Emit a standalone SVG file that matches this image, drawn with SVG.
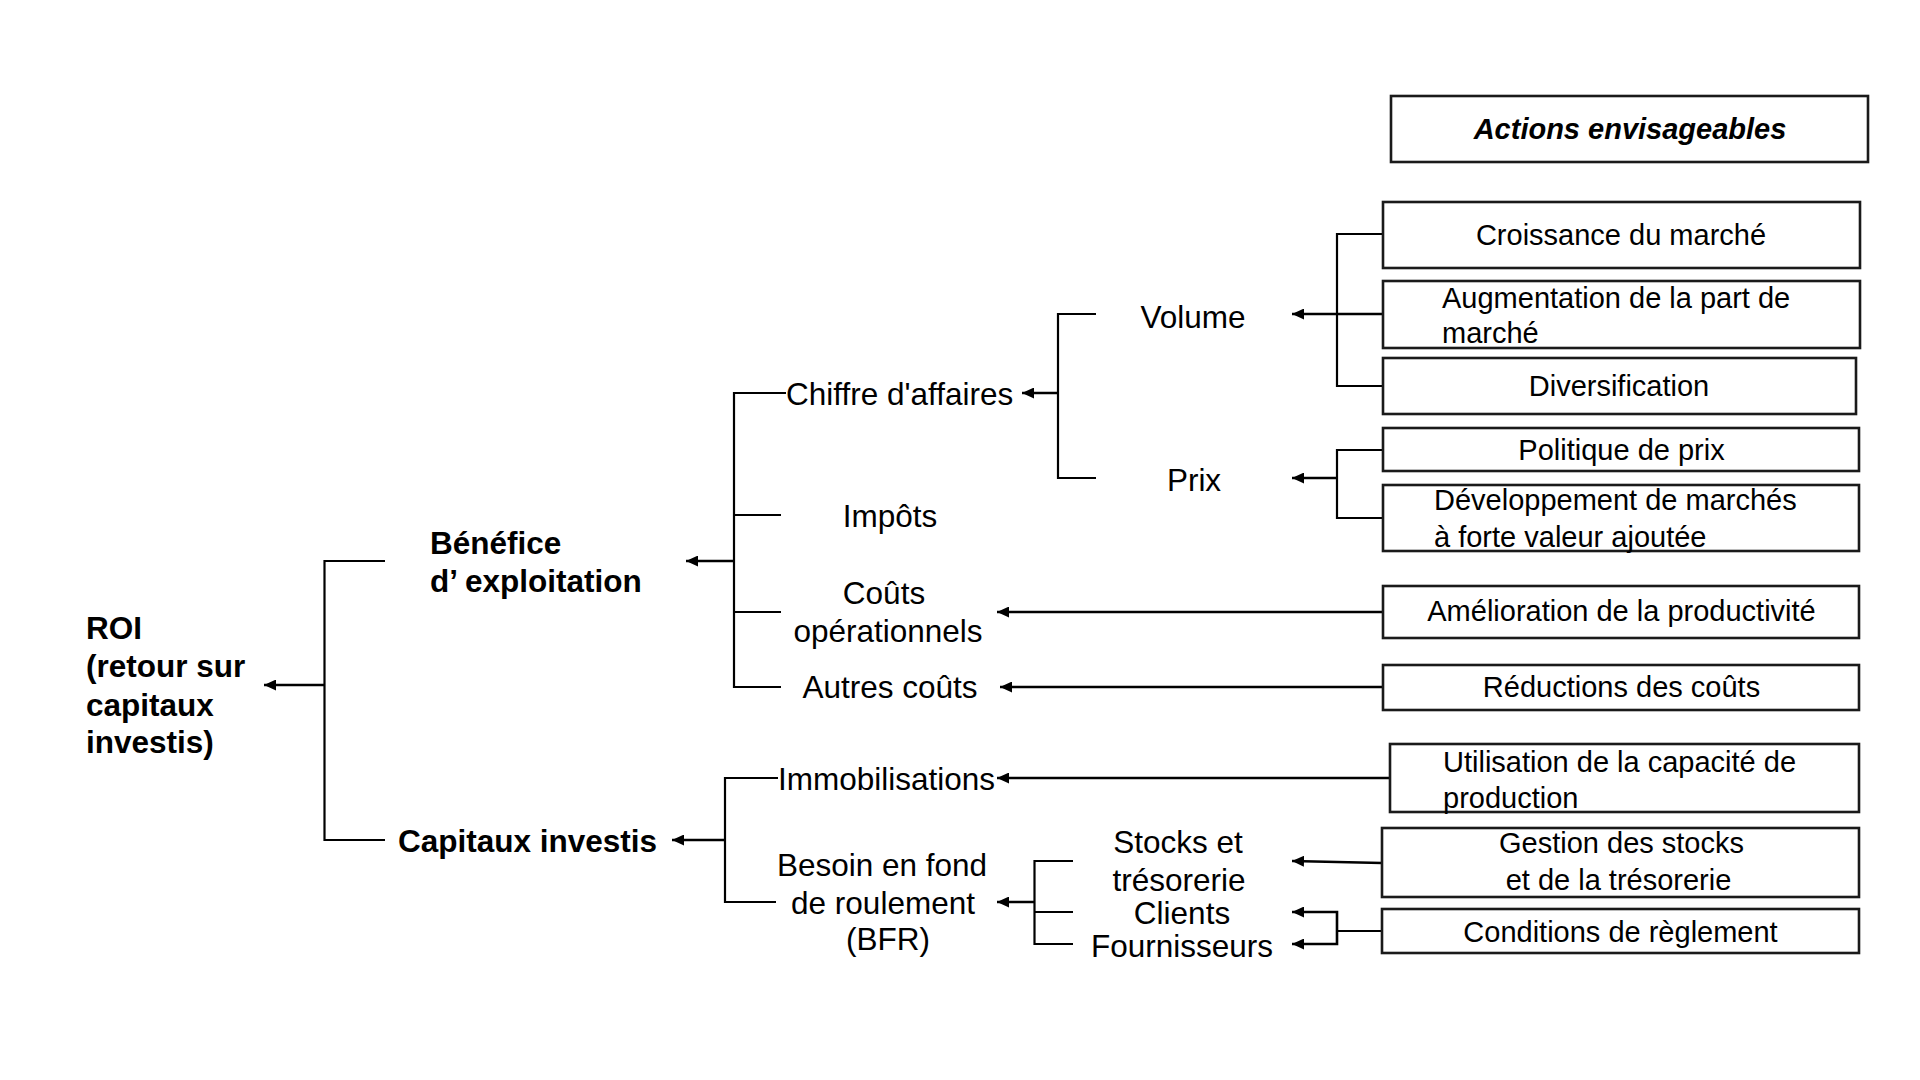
<svg xmlns="http://www.w3.org/2000/svg" width="1920" height="1080" viewBox="0 0 1920 1080">
<defs>
<marker id="ah" markerUnits="userSpaceOnUse" markerWidth="13" markerHeight="11" refX="12" refY="5.5" orient="auto">
<path d="M0,0 L12,5.5 L0,11 Z" fill="#000"/>
</marker>
<style>
.ln{fill:none;stroke:#000;stroke-width:2.2}
.ar{fill:none;stroke:#000;stroke-width:2.6;marker-end:url(#ah)}
.bx{fill:#fff;stroke:#1a1a1a;stroke-width:2.6}
.t{font-family:"Liberation Sans",Arial,sans-serif;font-size:31.5px;fill:#000}
.tb{font-family:"Liberation Sans",Arial,sans-serif;font-size:31.5px;font-weight:bold;fill:#000}
.tr{font-family:"Liberation Sans",Arial,sans-serif;font-size:29px;fill:#000}
.m{text-anchor:middle}
</style>
</defs>
<rect width="1920" height="1080" fill="#fff"/>

<g id="connectors">
<path class="ln" d="M385,561 H324.5 V840 H385"/>
<path class="ar" d="M324.5,685 H264"/>
<path class="ln" d="M786,393 H734 V687 H781 M734,515 H781 M734,612 H781"/>
<path class="ar" d="M734,561 H686"/>
<path class="ln" d="M778,778 H725 V902 H776"/>
<path class="ar" d="M725,840 H672"/>
<path class="ln" d="M1096,314 H1058 V478 H1096"/>
<path class="ar" d="M1058,393 H1022"/>
<path class="ln" d="M1383,234 H1337 V386 H1383"/>
<path class="ar" d="M1383,314 H1292"/>
<path class="ln" d="M1383,450 H1337 V518 H1383"/>
<path class="ar" d="M1337,478 H1292"/>
<path class="ar" d="M1383,612 H997"/>
<path class="ar" d="M1383,687 H1000"/>
<path class="ar" d="M1390,778 H997"/>
<path class="ln" d="M1073,861 H1034.5 V944 H1073 M1034.5,912 H1073"/>
<path class="ar" d="M1034.5,902 H997"/>
<path class="ar" d="M1382,863 L1292,861"/>
<path class="ln" d="M1382,931 H1337"/>
<path class="ar" d="M1337,931 V912 H1292"/>
<path class="ar" d="M1337,931 V944 H1292"/>
</g>

<g id="roi"><text class="tb" x="86" y="639">ROI</text><text class="tb" x="86" y="677">(retour sur</text><text class="tb" x="86" y="716">capitaux</text><text class="tb" x="86" y="753">investis)</text></g>
<g id="benefice"><text class="tb" x="430" y="554">Bénéfice</text><text class="tb" x="430" y="592">d’ exploitation</text></g>
<g id="capitaux"><text class="tb" x="398" y="852">Capitaux investis</text></g>

<g id="chiffre"><text class="t" x="786" y="405">Chiffre d'affaires</text></g>
<g id="impots"><text class="t m" x="890" y="527">Impôts</text></g>
<g id="couts-op"><text class="t m" x="884" y="604">Coûts</text><text class="t m" x="888" y="642">opérationnels</text></g>
<g id="autres"><text class="t m" x="890" y="698">Autres coûts</text></g>
<g id="immob"><text class="t" x="778" y="790">Immobilisations</text></g>
<g id="bfr"><text class="t m" x="882" y="876">Besoin en fond</text><text class="t m" x="883" y="914">de roulement</text><text class="t m" x="888" y="950">(BFR)</text></g>
<g id="volume"><text class="t m" x="1193" y="328">Volume</text></g>
<g id="prix"><text class="t m" x="1194" y="491">Prix</text></g>
<g id="stocks"><text class="t m" x="1178" y="853">Stocks et</text><text class="t m" x="1179" y="891">trésorerie</text></g>
<g id="clients"><text class="t m" x="1182" y="924">Clients</text></g>
<g id="fournisseurs"><text class="t m" x="1182" y="957">Fournisseurs</text></g>

<g id="actions"><rect class="bx" x="1391" y="96" width="477" height="66"/><text class="tr m" x="1630" y="139" style="font-weight:bold;font-style:italic">Actions envisageables</text></g>
<g id="croissance"><rect class="bx" x="1383" y="202" width="477" height="66"/><text class="tr m" x="1621" y="245">Croissance du marché</text></g>
<g id="augmentation"><rect class="bx" x="1383" y="281" width="477" height="67"/><text class="tr" x="1442" y="308">Augmentation de la part de</text><text class="tr" x="1442" y="343">marché</text></g>
<g id="diversification"><rect class="bx" x="1383" y="358" width="473" height="56"/><text class="tr m" x="1619" y="396">Diversification</text></g>
<g id="politique"><rect class="bx" x="1383" y="428" width="476" height="43"/><text class="tr m" x="1621.5" y="460">Politique de prix</text></g>
<g id="developpement"><rect class="bx" x="1383" y="485" width="476" height="66"/><text class="tr" x="1434" y="510">Développement de marchés</text><text class="tr" x="1434" y="547">à forte valeur ajoutée</text></g>
<g id="amelioration"><rect class="bx" x="1383" y="586" width="476" height="52"/><text class="tr m" x="1621.5" y="621">Amélioration de la productivité</text></g>
<g id="reductions"><rect class="bx" x="1383" y="665" width="476" height="45"/><text class="tr m" x="1621.5" y="697">Réductions des coûts</text></g>
<g id="utilisation"><rect class="bx" x="1390" y="744" width="469" height="68"/><text class="tr" x="1443" y="772">Utilisation de la capacité de</text><text class="tr" x="1443" y="808">production</text></g>
<g id="gestion"><rect class="bx" x="1382" y="828" width="477" height="69"/><text class="tr m" x="1621.5" y="853">Gestion des stocks</text><text class="tr m" x="1618.5" y="890">et de la trésorerie</text></g>
<g id="conditions"><rect class="bx" x="1382" y="909" width="477" height="44"/><text class="tr m" x="1620.5" y="942">Conditions de règlement</text></g>
</svg>
